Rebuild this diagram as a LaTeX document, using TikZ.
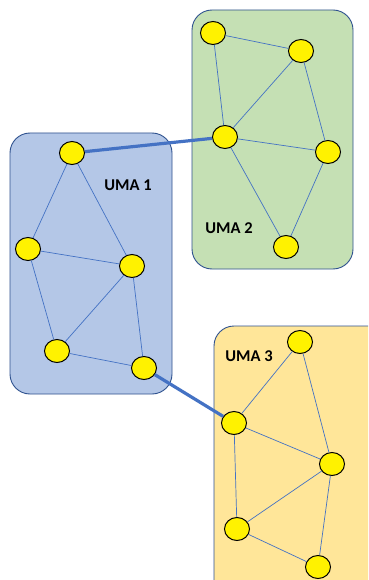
\documentclass[tikz,border=0pt]{standalone}
\usepackage{fontspec}
\setmainfont{Carlito}
\usetikzlibrary{shapes.geometric}
\definecolor{boxblue}{HTML}{B4C7E7}
\definecolor{boxgreen}{HTML}{C5E0B4}
\definecolor{boxyellow}{HTML}{FFE699}
\definecolor{edgeblue}{HTML}{4472C4}
\definecolor{borderblue}{HTML}{2F528F}
\begin{document}
\begin{tikzpicture}[x=1pt,y=-1pt,
  area/.style={draw=borderblue,line width=0.9pt,rounded corners=20pt},
  vtx/.style={ellipse,draw=black,line width=1pt,fill=yellow,minimum width=25pt,minimum height=23pt,inner sep=0pt},
  link/.style={draw=edgeblue,line width=0.7pt},
  bridge/.style={draw=edgeblue,line width=3.2pt},
  lbl/.style={font=\fontsize{16.5}{19}\selectfont\bfseries,text=black}]
\path[use as bounding box] (0,0) rectangle (368,580);
\fill[white] (0,0) rectangle (368,580);
\begin{scope}
\clip (0,0) rectangle (368,580);
\draw[area,fill=boxblue] (10,133) rectangle (172,394);
\draw[area,fill=boxgreen] (192,10) rectangle (353,269);
\draw[area,fill=boxyellow] (214,326) rectangle (390,610);
\end{scope}
\node[lbl] (l1) at (128,185) {UMA 1};
\node[lbl] (l2) at (229,228) {UMA 2};
\node[lbl] (l3) at (249,356) {UMA 3};
% UMA 1
\node[vtx] (a1) at (72,153) {};
\node[vtx] (a2) at (28,249) {};
\node[vtx] (a3) at (132,266) {};
\node[vtx] (a4) at (57,351) {};
\node[vtx] (a5) at (144,368) {};
% UMA 2
\node[vtx] (b1) at (213,33) {};
\node[vtx] (b2) at (301,51) {};
\node[vtx] (b3) at (225,137) {};
\node[vtx] (b4) at (328,152) {};
\node[vtx] (b5) at (286,247) {};
% UMA 3
\node[vtx] (c1) at (300,342) {};
\node[vtx] (c2) at (234,423) {};
\node[vtx] (c3) at (332,464) {};
\node[vtx] (c4) at (237,529) {};
\node[vtx] (c5) at (318,567) {};
\path[link] (a1)--(a2) (a1)--(a3) (a2)--(a3) (a2)--(a4) (a3)--(a4) (a3)--(a5) (a4)--(a5);
\path[link] (b1)--(b2) (b1)--(b3) (b2)--(b3) (b2)--(b4) (b3)--(b4) (b3)--(b5) (b4)--(b5);
\path[link] (c1)--(c2) (c1)--(c3) (c2)--(c3) (c2)--(c4) (c3)--(c4) (c3)--(c5) (c4)--(c5);
\path[bridge] (a1)--(b3) (a5)--(c2);
\end{tikzpicture}
\end{document}
